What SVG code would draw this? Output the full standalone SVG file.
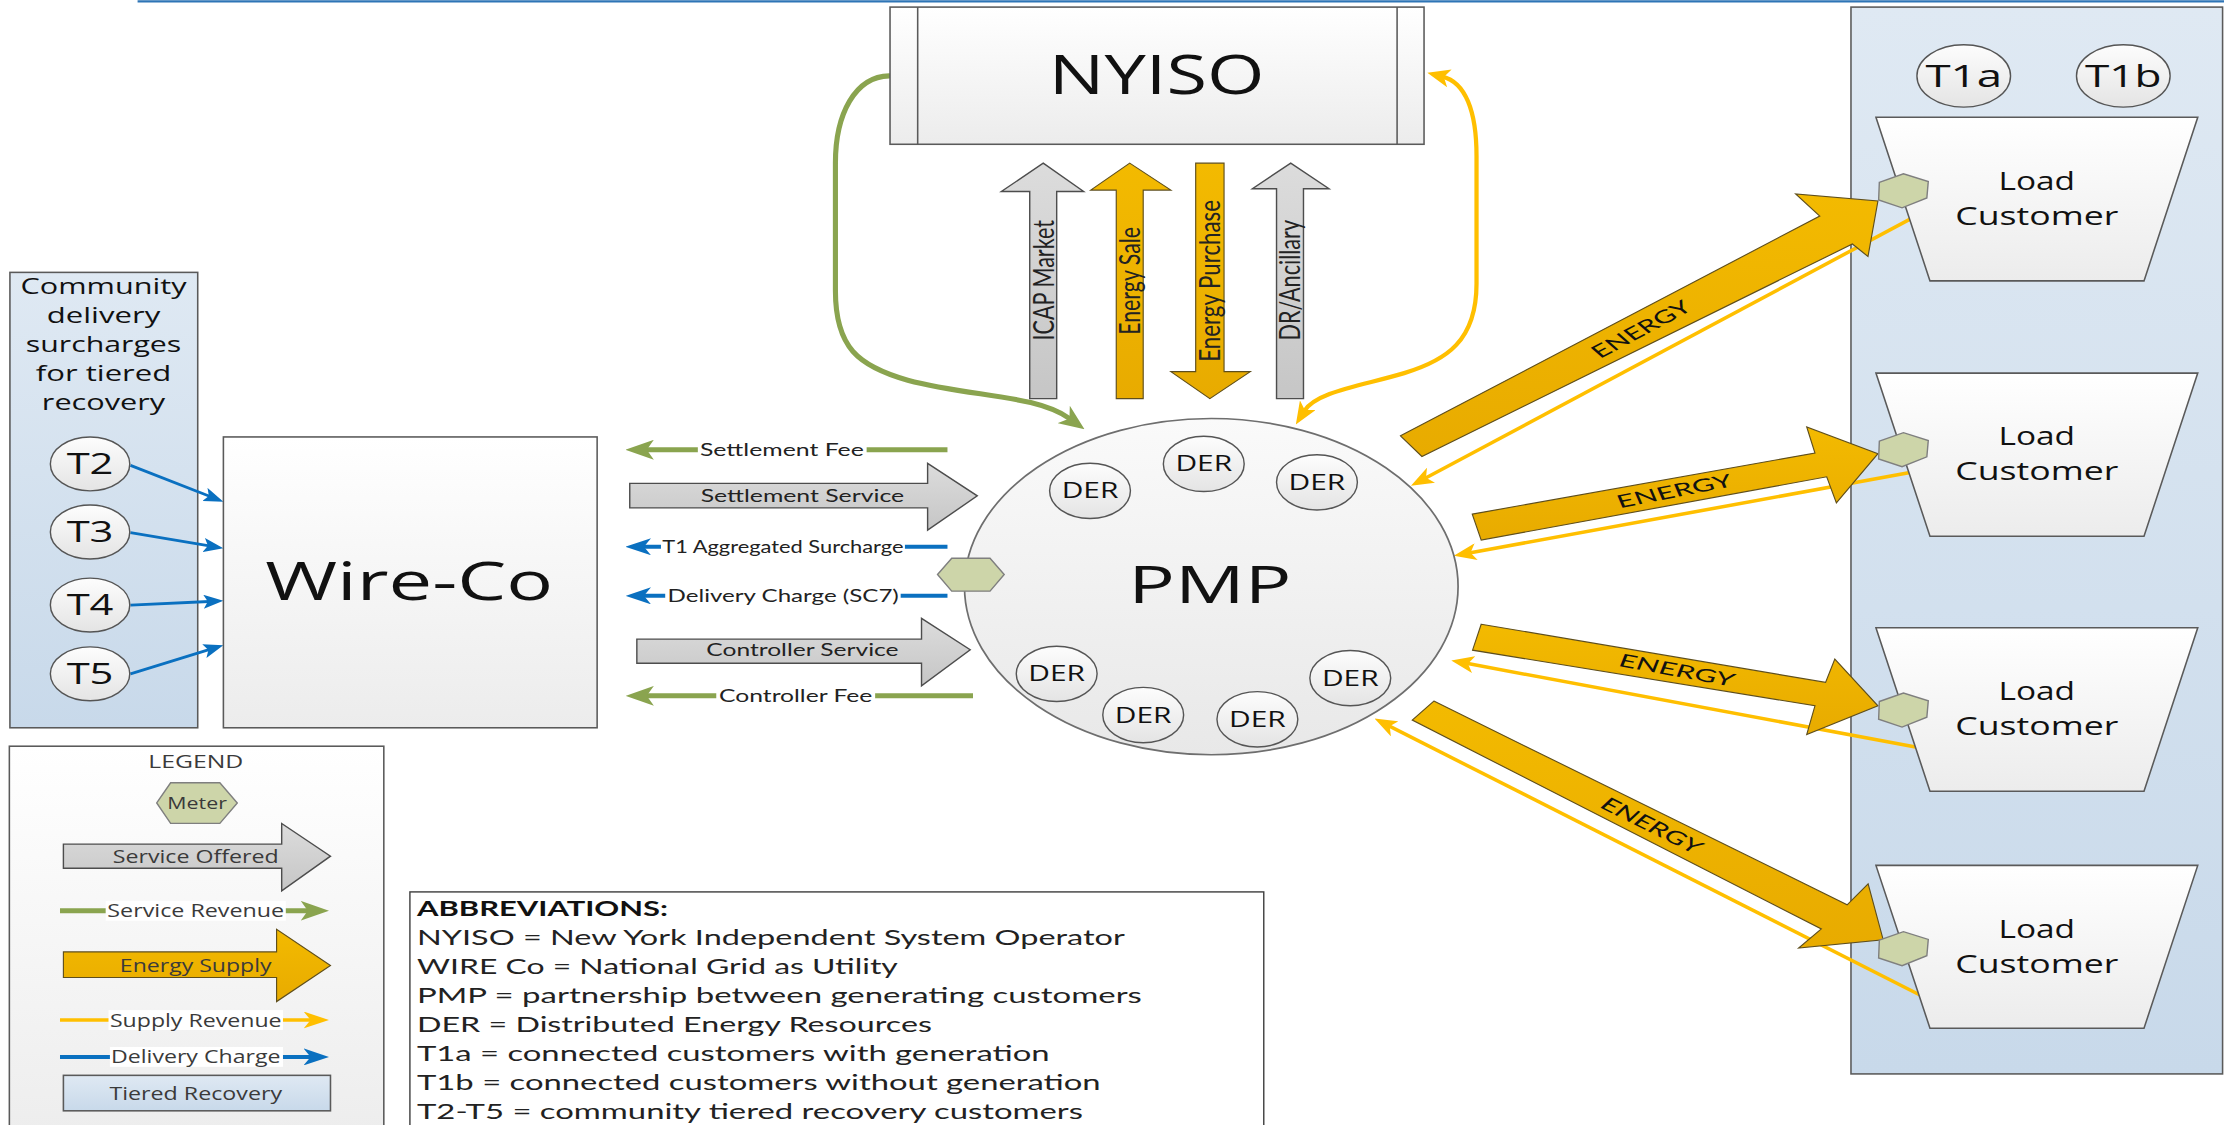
<svg xmlns="http://www.w3.org/2000/svg" width="2224" height="1125" viewBox="0 0 2224 1125">
<style>
.os{font-family:"Open Sans","DejaVu Sans",sans-serif;fill:#111;}
.lt{font-family:Lato,"Liberation Sans",sans-serif;fill:#222;}
.lg{font-family:"Open Sans","DejaVu Sans",sans-serif;fill:#3a3a3a;}
.box{stroke:#5a5a5a;stroke-width:1.1;}
.gray{fill:url(#gGray);stroke:#4d4d4d;stroke-width:1;}
.gold{fill:url(#gGold);stroke:#5e4e1c;stroke-width:0.8;}
.meter{fill:#cdd5a9;stroke:#7f7f7f;stroke-width:1;}
.der{fill:url(#gDer);stroke:#555;stroke-width:1;}
.green{fill:none;stroke:#8aa44f;stroke-width:3.5;}
.blue{fill:none;stroke:#0a70c0;stroke-width:2.8;}
.tblue{fill:none;stroke:#0a70c0;stroke-width:2;}
.yel{fill:none;stroke:#ffbf00;stroke-width:2.6;}
.ret{fill:none;stroke:#ffbf00;stroke-width:2.5;}
.bg{fill:#fff;}
</style>
<defs>
<linearGradient id="gBox" x1="0" y1="0" x2="0" y2="1"><stop offset="0" stop-color="#ffffff"/><stop offset="1" stop-color="#ececec"/></linearGradient>
<linearGradient id="gPmp" x1="0" y1="0" x2="0" y2="1"><stop offset="0" stop-color="#fafafa"/><stop offset="1" stop-color="#e8e8e8"/></linearGradient>
<linearGradient id="gDer" x1="0" y1="0" x2="0" y2="1"><stop offset="0" stop-color="#fdfdfd"/><stop offset="1" stop-color="#e4e4e4"/></linearGradient>
<linearGradient id="gBlue" x1="0" y1="0" x2="0" y2="1"><stop offset="0" stop-color="#dfe9f3"/><stop offset="1" stop-color="#c8d9ea"/></linearGradient>
<linearGradient id="gGray" x1="0" y1="0" x2="0" y2="1"><stop offset="0" stop-color="#dcdcdc"/><stop offset="1" stop-color="#c6c6c6"/></linearGradient>
<linearGradient id="gGold" x1="0" y1="0" x2="0" y2="1"><stop offset="0" stop-color="#f3ba00"/><stop offset="1" stop-color="#e8ab00"/></linearGradient>
<marker id="mG" markerUnits="userSpaceOnUse" viewBox="0 0 20 14" markerWidth="20" markerHeight="14" refX="6" refY="7" orient="auto"><path d="M0,0 L20,7 L0,14 L5,7 Z" fill="#8aa44f"/></marker>
<marker id="mGc" markerUnits="userSpaceOnUse" viewBox="0 0 18 15" markerWidth="18" markerHeight="15" refX="5" refY="7.5" orient="auto"><path d="M0,0 L18,7.5 L0,15 L5,7.5 Z" fill="#8aa44f"/></marker>
<marker id="mB" markerUnits="userSpaceOnUse" viewBox="0 0 18 12" markerWidth="18" markerHeight="12" refX="6" refY="6" orient="auto"><path d="M0,0 L18,6 L0,12 L5,6 Z" fill="#0a70c0"/></marker>
<marker id="mBt" markerUnits="userSpaceOnUse" viewBox="0 0 14 10" markerWidth="14" markerHeight="10" refX="4" refY="5" orient="auto"><path d="M0,0 L14,5 L0,10 L3,5 Z" fill="#0a70c0"/></marker>
<marker id="mY" markerUnits="userSpaceOnUse" viewBox="0 0 18 12" markerWidth="18" markerHeight="12" refX="6" refY="6" orient="auto"><path d="M0,0 L18,6 L0,12 L5,6 Z" fill="#ffbf00"/></marker>
<marker id="mYr" markerUnits="userSpaceOnUse" viewBox="0 0 16 12" markerWidth="16" markerHeight="12" refX="5" refY="6" orient="auto"><path d="M0,0 L16,6 L0,12 L4,6 Z" fill="#ffbf00"/></marker>
<marker id="mYc" markerUnits="userSpaceOnUse" viewBox="0 0 16 13" markerWidth="16" markerHeight="13" refX="5" refY="6.5" orient="auto-start-reverse"><path d="M0,0 L16,6.5 L0,13 L4,6.5 Z" fill="#ffbf00"/></marker>
<polygon id="meterV" class="meter" points="-17,-6 0,-12 17.5,-6.5 16.5,5 -1,12 -17.5,6.5"/>
</defs>
<rect width="2224" height="1125" fill="#fff"/>
<g transform="scale(1.41837 1.41866)">
<line x1="97" y1="1" x2="1568" y2="1" stroke="#2e75b6" stroke-width="1.6"/>

<!-- containers -->
<g id="community-box">
<rect x="7" y="192" width="132.4" height="321" fill="url(#gBlue)" class="box"/>
<text class="os" text-anchor="middle" font-size="14.8" x="73" y="207.5" textLength="117" lengthAdjust="spacingAndGlyphs">Community</text>
<text class="os" text-anchor="middle" font-size="14.8" x="73" y="227.8" textLength="80" lengthAdjust="spacingAndGlyphs">delivery</text>
<text class="os" text-anchor="middle" font-size="14.8" x="73" y="248.2" textLength="109.6" lengthAdjust="spacingAndGlyphs">surcharges</text>
<text class="os" text-anchor="middle" font-size="14.8" x="73" y="268.6" textLength="95.5" lengthAdjust="spacingAndGlyphs">for tiered</text>
<text class="os" text-anchor="middle" font-size="14.8" x="73" y="289" textLength="87" lengthAdjust="spacingAndGlyphs">recovery</text>
</g>
<g id="customer-panel">
<rect x="1305" y="5" width="262" height="752" fill="url(#gBlue)" class="box"/>
</g>
<g id="legend">
<rect x="6.6" y="526" width="264" height="290" fill="url(#gBox)" class="box"/>
<text class="lg" text-anchor="middle" font-size="13" x="138" y="541.5" textLength="67" lengthAdjust="spacingAndGlyphs">LEGEND</text>
<polygon class="meter" points="110.5,566 120.3,551.8 155,551.8 167.3,566 155,580.4 120.3,580.4"/>
<text class="lg" text-anchor="middle" font-size="11.8" x="139" y="570.2" textLength="42" lengthAdjust="spacingAndGlyphs">Meter</text>
<polygon class="gray" points="44.7,595 198.6,595 198.6,580.5 233,603.5 198.6,628 198.6,612 44.7,612"/>
<text class="lg" text-anchor="middle" font-size="13" x="138" y="608.2" textLength="117" lengthAdjust="spacingAndGlyphs">Service Offered</text>
<path class="green" d="M42.3,642 L218,642" marker-end="url(#mG)"/>
<rect class="bg" x="74.5" y="635" width="127" height="14"/>
<text class="lg" text-anchor="middle" font-size="13" x="138" y="646.6" textLength="124.6" lengthAdjust="spacingAndGlyphs">Service Revenue</text>
<polygon class="gold" points="44.7,671 195,671 195,655 233,680.6 195,706 195,689 44.7,689"/>
<text class="lg" text-anchor="middle" font-size="13" x="138" y="685" textLength="107" lengthAdjust="spacingAndGlyphs">Energy Supply</text>
<path class="yel" d="M42.3,719 L220,719" marker-end="url(#mY)"/>
<rect class="bg" x="76.5" y="712" width="123" height="14"/>
<text class="lg" text-anchor="middle" font-size="13" x="138" y="723.6" textLength="121" lengthAdjust="spacingAndGlyphs">Supply Revenue</text>
<path class="blue" d="M42.3,745 L220,745" marker-end="url(#mB)"/>
<rect class="bg" x="77.5" y="738" width="122" height="14"/>
<text class="lg" text-anchor="middle" font-size="13" x="138" y="749.6" textLength="119.4" lengthAdjust="spacingAndGlyphs">Delivery Charge</text>
<rect x="44.7" y="758" width="188.3" height="25" fill="url(#gBlue)" class="box"/>
<text class="lg" text-anchor="middle" font-size="13" x="138" y="775.2" textLength="121.7" lengthAdjust="spacingAndGlyphs">Tiered Recovery</text>
</g>
<g id="abbreviations">
<rect x="289" y="628.7" width="602" height="180" fill="#fff" stroke="#404040" stroke-width="1"/>
<text class="lt" font-size="14.8" font-weight="bold" x="294" y="645.8" textLength="177" lengthAdjust="spacingAndGlyphs" style="fill:#111">ABBREVIATIONS:</text>
<text class="lt" font-size="14.8" x="294" y="666.3" textLength="499" lengthAdjust="spacingAndGlyphs">NYISO = New York Independent System Operator</text>
<text class="lt" font-size="14.8" x="294" y="686.8" textLength="339" lengthAdjust="spacingAndGlyphs">WIRE Co = National Grid as Utility</text>
<text class="lt" font-size="14.8" x="294" y="707.3" textLength="511" lengthAdjust="spacingAndGlyphs">PMP = partnership between generating customers</text>
<text class="lt" font-size="14.8" x="294" y="727.6" textLength="363" lengthAdjust="spacingAndGlyphs">DER = Distributed Energy Resources</text>
<text class="lt" font-size="14.8" x="294" y="748.1" textLength="446" lengthAdjust="spacingAndGlyphs">T1a = connected customers with generation</text>
<text class="lt" font-size="14.8" x="294" y="768.6" textLength="482" lengthAdjust="spacingAndGlyphs">T1b = connected customers without generation</text>
<text class="lt" font-size="14.8" x="294" y="789" textLength="469.5" lengthAdjust="spacingAndGlyphs">T2-T5 = community tiered recovery customers</text>
</g>

<!-- connectors -->
<g id="connectors">
<path class="green" style="stroke-width:3.6;stroke-linecap:round" d="M627,53.5 C603,54 589,80 589,115 L589,205 C589,245 605,258 640,268 C685,280 730,278 754,295" marker-end="url(#mGc)"/>
<path class="yel" style="stroke-width:3" d="M1017,54 C1033,58 1041,78 1041,110 L1041,200 C1041,240 1020,254 990,263 C960,272 928,276 919.4,289.9" marker-start="url(#mYc)" marker-end="url(#mYc)"/>
<polygon class="gray" points="735.5,115 764,135 745,135 745,281 726,281 726,135 706,135"/>
<polygon class="gold" points="796.5,115 825.5,134 806,134 806,281 787,281 787,134 769,134"/>
<polygon class="gold" points="843,115 863,115 863,262 881.5,262 853,281 825.5,262 843,262"/>
<polygon class="gray" points="910,115 937,133 919,133 919,281 900,281 900,133 883,133"/>
<text class="lt" transform="translate(735.5,197.5) scale(1.47,1) rotate(-90)" x="0" y="5" text-anchor="middle" font-size="13.8" textLength="85" lengthAdjust="spacingAndGlyphs">ICAP Market</text>
<text class="lt" transform="translate(796.5,198) scale(1.47,1) rotate(-90)" x="0" y="5" text-anchor="middle" font-size="13.8" textLength="76" lengthAdjust="spacingAndGlyphs">Energy Sale</text>
<text class="lt" transform="translate(853,198) scale(1.47,1) rotate(-90)" x="0" y="5" text-anchor="middle" font-size="13.8" textLength="114" lengthAdjust="spacingAndGlyphs">Energy Purchase</text>
<text class="lt" transform="translate(909.5,197.5) scale(1.47,1) rotate(-90)" x="0" y="5" text-anchor="middle" font-size="13.8" textLength="85" lengthAdjust="spacingAndGlyphs">DR/Ancillary</text>

<path class="tblue" d="M92,328 L148.2,350" marker-end="url(#mBt)"/>
<path class="tblue" d="M92,375.5 L147.6,384.8" marker-end="url(#mBt)"/>
<path class="tblue" d="M92,426.5 L147.5,424" marker-end="url(#mBt)"/>
<path class="tblue" d="M92,475 L147.9,457.8" marker-end="url(#mBt)"/>

<path class="green" d="M668,317 L455,317" marker-end="url(#mG)"/>
<rect class="bg" x="492" y="311" width="119" height="12"/>
<text class="lt" font-size="11.5" x="493.5" y="321.2" textLength="115.5" lengthAdjust="spacingAndGlyphs">Settlement Fee</text>
<polygon class="gray" points="444,340.7 654,340.7 654,326.6 689,349.5 654,373.7 654,358 444,358"/>
<text class="lt" font-size="11.5" x="494" y="353.6" textLength="143.5" lengthAdjust="spacingAndGlyphs">Settlement Service</text>
<path class="blue" d="M668,385.4 L453,385.4" marker-end="url(#mB)"/>
<rect class="bg" x="466" y="379" width="172" height="13"/>
<text class="lt" font-size="11.5" x="467" y="389.5" textLength="170" lengthAdjust="spacingAndGlyphs">T1 Aggregated Surcharge</text>
<path class="blue" d="M668,420 L453,420" marker-end="url(#mB)"/>
<rect class="bg" x="469" y="413" width="166" height="14"/>
<text class="lt" font-size="11.5" x="470.7" y="424.1" textLength="163" lengthAdjust="spacingAndGlyphs">Delivery Charge (SC7)</text>
<polygon class="gray" points="449,450.5 649.7,450.5 649.7,435.9 684,458 649.7,483.4 649.7,467.5 449,467.5"/>
<text class="lt" font-size="11.5" x="498" y="462.1" textLength="135.5" lengthAdjust="spacingAndGlyphs">Controller Service</text>
<path class="green" d="M686,490.5 L455,490.5" marker-end="url(#mG)"/>
<rect class="bg" x="505" y="484" width="112" height="13"/>
<text class="lt" font-size="11.5" x="507" y="494.6" textLength="108" lengthAdjust="spacingAndGlyphs">Controller Fee</text>

<path class="ret" d="M1351.3,152 L1004.5,337.3" marker-end="url(#mYr)"/>
<path class="ret" d="M1350.5,332.4 L1035.8,389.8" marker-end="url(#mYr)"/>
<path class="ret" d="M1350.5,526.6 L1034,467.6" marker-end="url(#mYr)"/>
<path class="ret" d="M1354.3,701.7 L978.9,511.5" marker-end="url(#mYr)"/>
<polygon class="gold" points="987.4,307.2 1283,152.3 1266,136.7 1324,141.7 1317,180.8 1306,172 1002.5,321.8"/>
<polygon class="gold" points="1038,362.4 1279.6,319.3 1273.8,301 1324,319.8 1294.7,354.5 1287.9,336.1 1044.3,380.7"/>
<polygon class="gold" points="1044.3,440 1287.1,481 1293.6,464.6 1324,497.5 1273.8,517.8 1279.6,497.5 1038.2,458.3"/>
<polygon class="gold" points="1010.9,494.2 1302.3,637.8 1317.1,623 1327.7,662.4 1268.1,668.2 1284.1,654.8 995.7,507.6"/>
<text class="lt" transform="translate(1157,232) scale(1.47,1) rotate(-38)" x="0" y="4.5" text-anchor="middle" font-size="12.5" textLength="57" lengthAdjust="spacingAndGlyphs" style="fill:#111">ENERGY</text>
<text class="lt" transform="translate(1180.5,346) scale(1.47,1) rotate(-16)" x="0" y="4.5" text-anchor="middle" font-size="12.5" textLength="57" lengthAdjust="spacingAndGlyphs" style="fill:#111">ENERGY</text>
<text class="lt" transform="translate(1182.4,472.3) scale(1.47,1) rotate(15)" x="0" y="4.5" text-anchor="middle" font-size="12.5" textLength="57" lengthAdjust="spacingAndGlyphs" style="fill:#111">ENERGY</text>
<text class="lt" transform="translate(1164.6,581.8) scale(1.47,1) rotate(36)" x="0" y="4.5" text-anchor="middle" font-size="12.5" textLength="57" lengthAdjust="spacingAndGlyphs" style="fill:#111">ENERGY</text>
</g>

<!-- nodes -->
<g id="nyiso">
<rect x="627.5" y="5" width="376.5" height="96.7" fill="url(#gBox)" class="box"/>
<line x1="647" y1="5" x2="647" y2="101.7" class="box"/>
<line x1="985" y1="5" x2="985" y2="101.7" class="box"/>
<text class="os" text-anchor="middle" font-size="38.5" x="815.5" y="66.3" textLength="152" lengthAdjust="spacingAndGlyphs">NYISO</text>
</g>
<g id="wire-co">
<rect x="157.5" y="308" width="263.5" height="205" fill="url(#gBox)" class="box"/>
<text class="os" text-anchor="middle" font-size="38" x="288.5" y="423" textLength="203" lengthAdjust="spacingAndGlyphs">Wire-Co</text>
</g>
<g id="t2"><ellipse cx="63.5" cy="327" rx="28" ry="19" class="der"/><text class="os" text-anchor="middle" font-size="20.4" x="63.5" y="334.3" textLength="33" lengthAdjust="spacingAndGlyphs">T2</text></g>
<g id="t3"><ellipse cx="63.5" cy="375" rx="28" ry="19" class="der"/><text class="os" text-anchor="middle" font-size="20.4" x="63.5" y="382.3" textLength="33" lengthAdjust="spacingAndGlyphs">T3</text></g>
<g id="t4"><ellipse cx="63.5" cy="426.5" rx="28" ry="19" class="der"/><text class="os" text-anchor="middle" font-size="20.4" x="63.5" y="433.8" textLength="33" lengthAdjust="spacingAndGlyphs">T4</text></g>
<g id="t5"><ellipse cx="63.5" cy="475" rx="28" ry="19" class="der"/><text class="os" text-anchor="middle" font-size="20.4" x="63.5" y="482.3" textLength="33" lengthAdjust="spacingAndGlyphs">T5</text></g>
<g id="pmp">
<ellipse cx="854" cy="413.5" rx="174" ry="118.5" fill="url(#gPmp)" stroke="#6e6e6e" stroke-width="1.2"/>
<text class="os" text-anchor="middle" font-size="36.5" x="853" y="425" textLength="115" lengthAdjust="spacingAndGlyphs">PMP</text>
<polygon class="meter" points="661,405 671,393.5 698,393.5 708,405 698,416.7 671,416.7"/>
</g>
<g id="der1"><ellipse cx="768.5" cy="346" rx="28.5" ry="19.5" class="der"/><text class="os" text-anchor="middle" font-size="14.8" x="768.5" y="351.3" textLength="40" lengthAdjust="spacingAndGlyphs">DER</text></g>
<g id="der2"><ellipse cx="848.7" cy="327" rx="28.5" ry="19.5" class="der"/><text class="os" text-anchor="middle" font-size="14.8" x="848.7" y="332.3" textLength="40" lengthAdjust="spacingAndGlyphs">DER</text></g>
<g id="der3"><ellipse cx="928.5" cy="340" rx="28.5" ry="19.5" class="der"/><text class="os" text-anchor="middle" font-size="14.8" x="928.5" y="345.3" textLength="40" lengthAdjust="spacingAndGlyphs">DER</text></g>
<g id="der4"><ellipse cx="745" cy="475" rx="28.5" ry="19.5" class="der"/><text class="os" text-anchor="middle" font-size="14.8" x="745" y="480.3" textLength="40" lengthAdjust="spacingAndGlyphs">DER</text></g>
<g id="der5"><ellipse cx="806" cy="504" rx="28.5" ry="19.5" class="der"/><text class="os" text-anchor="middle" font-size="14.8" x="806" y="509.3" textLength="40" lengthAdjust="spacingAndGlyphs">DER</text></g>
<g id="der6"><ellipse cx="886.5" cy="507" rx="28.5" ry="19.5" class="der"/><text class="os" text-anchor="middle" font-size="14.8" x="886.5" y="512.3" textLength="40" lengthAdjust="spacingAndGlyphs">DER</text></g>
<g id="der7"><ellipse cx="952" cy="478" rx="28.5" ry="19.5" class="der"/><text class="os" text-anchor="middle" font-size="14.8" x="952" y="483.3" textLength="40" lengthAdjust="spacingAndGlyphs">DER</text></g>
<g id="t1a"><ellipse cx="1384.5" cy="53.5" rx="33" ry="22" class="der"/><text class="os" text-anchor="middle" font-size="21.5" x="1384.5" y="61.2" textLength="54" lengthAdjust="spacingAndGlyphs">T1a</text></g>
<g id="t1b"><ellipse cx="1497" cy="53.5" rx="33" ry="22" class="der"/><text class="os" text-anchor="middle" font-size="21.5" x="1497" y="61.2" textLength="54" lengthAdjust="spacingAndGlyphs">T1b</text></g>
<g id="load1">
<polygon points="1322.6,82.6 1549.5,82.6 1511.6,198 1360.7,198" fill="url(#gBox)" class="box"/>
<text class="os" text-anchor="middle" font-size="17.6" x="1436" y="133.6" textLength="54" lengthAdjust="spacingAndGlyphs">Load</text>
<text class="os" text-anchor="middle" font-size="17.6" x="1436" y="158.3" textLength="115" lengthAdjust="spacingAndGlyphs">Customer</text>
<use href="#meterV" x="1342" y="134.5"/>
</g>
<g id="load2">
<polygon points="1322.6,263 1549.5,263 1511.6,378 1360.7,378" fill="url(#gBox)" class="box"/>
<text class="os" text-anchor="middle" font-size="17.6" x="1436" y="314" textLength="54" lengthAdjust="spacingAndGlyphs">Load</text>
<text class="os" text-anchor="middle" font-size="17.6" x="1436" y="338.7" textLength="115" lengthAdjust="spacingAndGlyphs">Customer</text>
<use href="#meterV" x="1342" y="317"/>
</g>
<g id="load3">
<polygon points="1322.6,442.5 1549.5,442.5 1511.6,557.7 1360.7,557.7" fill="url(#gBox)" class="box"/>
<text class="os" text-anchor="middle" font-size="17.6" x="1436" y="493.5" textLength="54" lengthAdjust="spacingAndGlyphs">Load</text>
<text class="os" text-anchor="middle" font-size="17.6" x="1436" y="518.2" textLength="115" lengthAdjust="spacingAndGlyphs">Customer</text>
<use href="#meterV" x="1342" y="500.5"/>
</g>
<g id="load4">
<polygon points="1322.6,610 1549.5,610 1511.6,724.8 1360.7,724.8" fill="url(#gBox)" class="box"/>
<text class="os" text-anchor="middle" font-size="17.6" x="1436" y="661" textLength="54" lengthAdjust="spacingAndGlyphs">Load</text>
<text class="os" text-anchor="middle" font-size="17.6" x="1436" y="685.7" textLength="115" lengthAdjust="spacingAndGlyphs">Customer</text>
<use href="#meterV" x="1342" y="668.7"/>
</g>
</g>
</svg>
